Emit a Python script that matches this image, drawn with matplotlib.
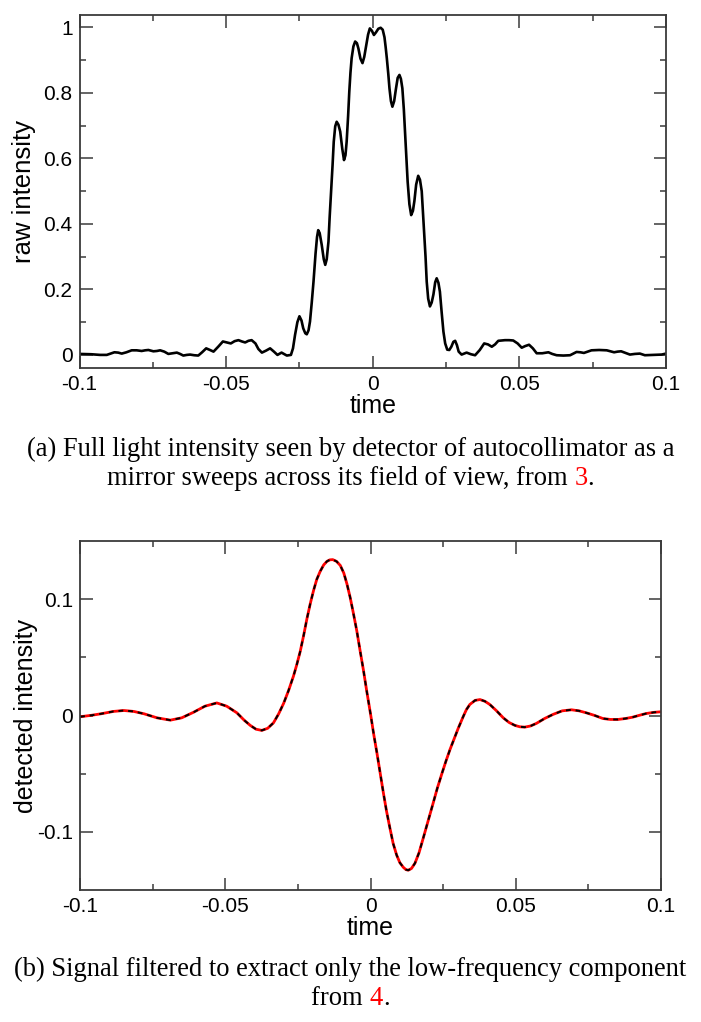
import matplotlib
matplotlib.use("Agg")
import matplotlib.pyplot as plt
import numpy as np

# ---------------- data ----------------
raw_time = [
    -0.1000, -0.0960, -0.0930, -0.0907, -0.0894, -0.0881, -0.0868, -0.0856, -0.0840, -0.0822,
    -0.0805, -0.0788, -0.0776, -0.0765, -0.0748, -0.0736, -0.0725, -0.0711, -0.0697, -0.0682,
    -0.0668, -0.0657, -0.0646, -0.0634, -0.0623, -0.0609, -0.0595, -0.0582, -0.0568, -0.0555,
    -0.0543, -0.0527, -0.0511, -0.0497, -0.0484, -0.0471, -0.0458, -0.0446, -0.0435, -0.0424,
    -0.0413, -0.0400, -0.0390, -0.0378, -0.0364, -0.0350, -0.0337, -0.0325, -0.0311, -0.0293,
    -0.0279, -0.0272, -0.0265, -0.0257, -0.0250, -0.0243, -0.0237, -0.0230, -0.0225, -0.0219,
    -0.0214, -0.0208, -0.0202, -0.0195, -0.0190, -0.0186, -0.0181, -0.0174, -0.0167, -0.0162,
    -0.0157, -0.0151, -0.0147, -0.0142, -0.0137, -0.0133, -0.0128, -0.0123, -0.0117, -0.0111,
    -0.0104, -0.0098, -0.0093, -0.0089, -0.0084, -0.0080, -0.0076, -0.0072, -0.0066, -0.0060,
    -0.0054, -0.0049, -0.0042, -0.0035, -0.0029, -0.0023, -0.0016, -0.0010, -0.0003, 0.0004,
    0.0011, 0.0019, 0.0027, 0.0034, 0.0040, 0.0044, 0.0048, 0.0053, 0.0057, 0.0062,
    0.0067, 0.0073, 0.0079, 0.0085, 0.0091, 0.0096, 0.0101, 0.0106, 0.0110, 0.0115,
    0.0119, 0.0125, 0.0131, 0.0137, 0.0142, 0.0148, 0.0155, 0.0161, 0.0167, 0.0171,
    0.0175, 0.0180, 0.0184, 0.0189, 0.0195, 0.0201, 0.0207, 0.0213, 0.0218, 0.0224,
    0.0229, 0.0235, 0.0241, 0.0247, 0.0254, 0.0261, 0.0268, 0.0275, 0.0281, 0.0287,
    0.0293, 0.0303, 0.0320, 0.0335, 0.0349, 0.0365, 0.0380, 0.0393, 0.0406, 0.0417,
    0.0428, 0.0440, 0.0451, 0.0465, 0.0479, 0.0494, 0.0508, 0.0520, 0.0533, 0.0546,
    0.0559, 0.0578, 0.0599, 0.0612, 0.0627, 0.0650, 0.0673, 0.0695, 0.0708, 0.0720,
    0.0733, 0.0746, 0.0772, 0.0798, 0.0810, 0.0823, 0.0835, 0.0847, 0.0862, 0.0877,
    0.0894, 0.0911, 0.0928, 0.0960, 0.0985, 0.1000,
]
raw_intensity = [
    0.003, 0.002, 0.000, 0.000, 0.004, 0.008, 0.007, 0.004, 0.008, 0.014,
    0.014, 0.012, 0.014, 0.015, 0.011, 0.012, 0.014, 0.010, 0.003, 0.005,
    0.007, 0.003, -0.002, 0.000, 0.001, -0.001, -0.002, 0.008, 0.020, 0.015,
    0.010, 0.025, 0.041, 0.038, 0.035, 0.042, 0.045, 0.041, 0.038, 0.043,
    0.045, 0.035, 0.018, 0.007, 0.013, 0.020, 0.010, 0.000, 0.007, -0.002,
    0.000, 0.020, 0.061, 0.100, 0.118, 0.105, 0.081, 0.066, 0.063, 0.075,
    0.102, 0.160, 0.224, 0.310, 0.360, 0.381, 0.372, 0.336, 0.292, 0.275,
    0.292, 0.346, 0.420, 0.499, 0.580, 0.651, 0.698, 0.712, 0.703, 0.682,
    0.630, 0.595, 0.610, 0.651, 0.730, 0.804, 0.862, 0.906, 0.942, 0.957,
    0.952, 0.936, 0.905, 0.891, 0.910, 0.941, 0.978, 0.997, 0.990, 0.977,
    0.985, 0.996, 0.999, 0.993, 0.970, 0.940, 0.906, 0.858, 0.814, 0.775,
    0.758, 0.775, 0.812, 0.846, 0.855, 0.843, 0.814, 0.750, 0.682, 0.600,
    0.529, 0.460, 0.427, 0.440, 0.470, 0.520, 0.547, 0.535, 0.500, 0.440,
    0.377, 0.300, 0.224, 0.172, 0.148, 0.160, 0.185, 0.222, 0.234, 0.220,
    0.193, 0.130, 0.071, 0.035, 0.016, 0.015, 0.025, 0.040, 0.043, 0.030,
    0.010, 0.001, 0.007, 0.002, -0.001, 0.015, 0.035, 0.032, 0.025, 0.032,
    0.043, 0.044, 0.045, 0.045, 0.044, 0.035, 0.022, 0.027, 0.031, 0.020,
    0.005, 0.005, 0.008, 0.003, -0.001, -0.002, -0.001, 0.009, 0.008, 0.006,
    0.010, 0.014, 0.015, 0.014, 0.011, 0.008, 0.010, 0.011, 0.006, 0.001,
    0.003, 0.004, -0.001, 0.000, 0.001, 0.004,
]

filt_time = [
    -0.1000, -0.0960, -0.0927, -0.0885, -0.0849, -0.0815, -0.0780, -0.0735, -0.0689, -0.0650,
    -0.0609, -0.0570, -0.0529, -0.0495, -0.0460, -0.0435, -0.0414, -0.0394, -0.0374, -0.0354,
    -0.0334, -0.0316, -0.0299, -0.0282, -0.0265, -0.0254, -0.0242, -0.0230, -0.0219, -0.0207,
    -0.0196, -0.0185, -0.0173, -0.0161, -0.0150, -0.0140, -0.0130, -0.0117, -0.0104, -0.0092,
    -0.0081, -0.0070, -0.0059, -0.0047, -0.0036, -0.0024, -0.0013, 0.0001, 0.0011, 0.0022,
    0.0033, 0.0044, 0.0055, 0.0067, 0.0078, 0.0090, 0.0101, 0.0113, 0.0122, 0.0130,
    0.0141, 0.0153, 0.0167, 0.0182, 0.0199, 0.0216, 0.0230, 0.0245, 0.0260, 0.0274,
    0.0288, 0.0302, 0.0319, 0.0330, 0.0342, 0.0360, 0.0377, 0.0394, 0.0411, 0.0434,
    0.0457, 0.0477, 0.0497, 0.0514, 0.0531, 0.0551, 0.0571, 0.0600, 0.0629, 0.0660,
    0.0692, 0.0718, 0.0743, 0.0772, 0.0800, 0.0826, 0.0852, 0.0878, 0.0903, 0.0926,
    0.0949, 0.0975, 0.1000,
]
filt_intensity = [
    -0.0011, 0.0002, 0.0015, 0.0035, 0.0043, 0.0035, 0.0015, -0.0020, -0.0040, -0.0020,
    0.0028, 0.0080, 0.0108, 0.0080, 0.0023, -0.0040, -0.0085, -0.0118, -0.0128, -0.0110,
    -0.0063, 0.0015, 0.0105, 0.0215, 0.0340, 0.0435, 0.0550, 0.0690, 0.0830, 0.0965,
    0.1075, 0.1170, 0.1240, 0.1295, 0.1325, 0.1338, 0.1340, 0.1325, 0.1290, 0.1225,
    0.1130, 0.1015, 0.0880, 0.0725, 0.0560, 0.0385, 0.0210, 0.0000, -0.0160, -0.0320,
    -0.0490, -0.0660, -0.0820, -0.0970, -0.1100, -0.1200, -0.1265, -0.1305, -0.1325, -0.1330,
    -0.1315, -0.1270, -0.1180, -0.1050, -0.0900, -0.0750, -0.0625, -0.0505, -0.0390, -0.0290,
    -0.0200, -0.0110, -0.0010, 0.0050, 0.0095, 0.0130, 0.0137, 0.0122, 0.0094, 0.0040,
    -0.0020, -0.0060, -0.0085, -0.0097, -0.0100, -0.0090, -0.0068, -0.0025, 0.0010, 0.0040,
    0.0049, 0.0040, 0.0023, 0.0000, -0.0026, -0.0034, -0.0034, -0.0026, -0.0014, 0.0002,
    0.0017, 0.0027, 0.0032,
]

x_major = [-0.1, -0.05, 0.0, 0.05, 0.1]
x_major_labels = ["-0.1", "-0.05", "0", "0.05", "0.1"]
x_minor = [-0.075, -0.025, 0.025, 0.075]
top_y_major = [0.0, 0.2, 0.4, 0.6, 0.8, 1.0]
top_y_labels = ["0", "0.2", "0.4", "0.6", "0.8", "1"]
top_y_minor = [0.1, 0.3, 0.5, 0.7, 0.9]
bot_y_major = [-0.1, 0.0, 0.1]
bot_y_labels = ["-0.1", "0", "0.1"]
bot_y_minor = [-0.05, 0.05]

caption_a = [("(a) Full light intensity seen by detector of autocollimator as a",),
             ("mirror sweeps across its field of view, from ", "3", ".")]
caption_b = [("(b) Signal filtered to extract only the low-frequency component",),
             ("from ", "4", ".")]

# ---------------- figure ----------------
plt.rcParams["axes.unicode_minus"] = False
W, H = 701, 1022
fig = plt.figure(figsize=(W / 100, H / 100), dpi=100)

sans = ["Liberation Sans", "DejaVu Sans"]
serif = ["Liberation Serif", "DejaVu Serif"]
axcol = "#3a3a3a"


def style_axes(ax, ymaj, ylab, ymin):
    ax.set_xlim(-0.1, 0.1)
    ax.set_xticks(x_major)
    ax.set_xticklabels(x_major_labels)
    ax.set_xticks(x_minor, minor=True)
    ax.set_yticks(ymaj)
    ax.set_yticklabels(ylab)
    ax.set_yticks(ymin, minor=True)
    ax.tick_params(which="both", direction="in", top=True, right=True, color=axcol,
                   width=1.1, labelsize=15, pad=5)
    ax.tick_params(which="major", length=9)
    ax.tick_params(which="minor", length=4)
    for lab in ax.get_xticklabels() + ax.get_yticklabels():
        lab.set_family(sans)
    for s in ax.spines.values():
        s.set_color(axcol)
        s.set_linewidth(1.3)


# top panel
ax1 = fig.add_axes([79.5 / W, 1 - 368 / H, (666 - 79.5) / W, (368 - 15) / H])
ax1.plot(raw_time, raw_intensity, color="black", lw=1.9, solid_joinstyle="round")
ax1.set_ylim(-0.04, 1.038)
style_axes(ax1, top_y_major, top_y_labels, top_y_minor)
ax1.set_xlabel("time", fontsize=18, family=sans)
ax1.set_ylabel("raw intensity", fontsize=18.5, family=sans)
ax1.xaxis.set_label_coords(0.5, -0.074)
ax1.yaxis.set_label_coords(-0.075, 0.5)

# bottom panel
ax2 = fig.add_axes([80 / W, 1 - 890 / H, (661 - 80) / W, (890 - 541) / H])
ax2.plot(filt_time, filt_intensity, color="#ff0000", lw=2.0, solid_joinstyle="round")
ax2.plot(filt_time, filt_intensity, color="black", lw=1.4, dashes=(2.5, 2.5))
ax2.set_ylim(-0.15, 0.15)
style_axes(ax2, bot_y_major, bot_y_labels, bot_y_minor)
ax2.set_xlabel("time", fontsize=18, family=sans)
ax2.set_ylabel("detected intensity", fontsize=18, family=sans)
ax2.xaxis.set_label_coords(0.5, -0.074)
ax2.yaxis.set_label_coords(-0.072, 0.5)

# captions
renderer = fig.canvas.get_renderer()
cap_fs = 19.1


def width_px(s):
    t = fig.text(0, 0, s, fontsize=cap_fs, family=serif)
    w = t.get_window_extent(renderer).width
    t.remove()
    return w


def caption_line(parts, y_px):
    yf = 1 - y_px / H
    if len(parts) == 1:
        fig.text(0.5, yf, parts[0], fontsize=cap_fs, family=serif, ha="center", va="center")
        return
    pre, num, post = parts
    full = width_px(pre + num + post)
    x0 = (W - full) / 2
    x_num = x0 + width_px(pre + num) - width_px(num)
    x_post = x0 + width_px(pre + num)
    fig.text(x0 / W, yf, pre, fontsize=cap_fs, family=serif, ha="left", va="center")
    fig.text(x_num / W, yf, num, fontsize=cap_fs, family=serif, ha="left", va="center",
             color="#ff0000")
    fig.text(x_post / W, yf, post, fontsize=cap_fs, family=serif, ha="left", va="center")


caption_line(caption_a[0], 449)
caption_line(caption_a[1], 478)
caption_line(caption_b[0], 969)
caption_line(caption_b[1], 998)

fig.savefig("out.png", dpi=100)
